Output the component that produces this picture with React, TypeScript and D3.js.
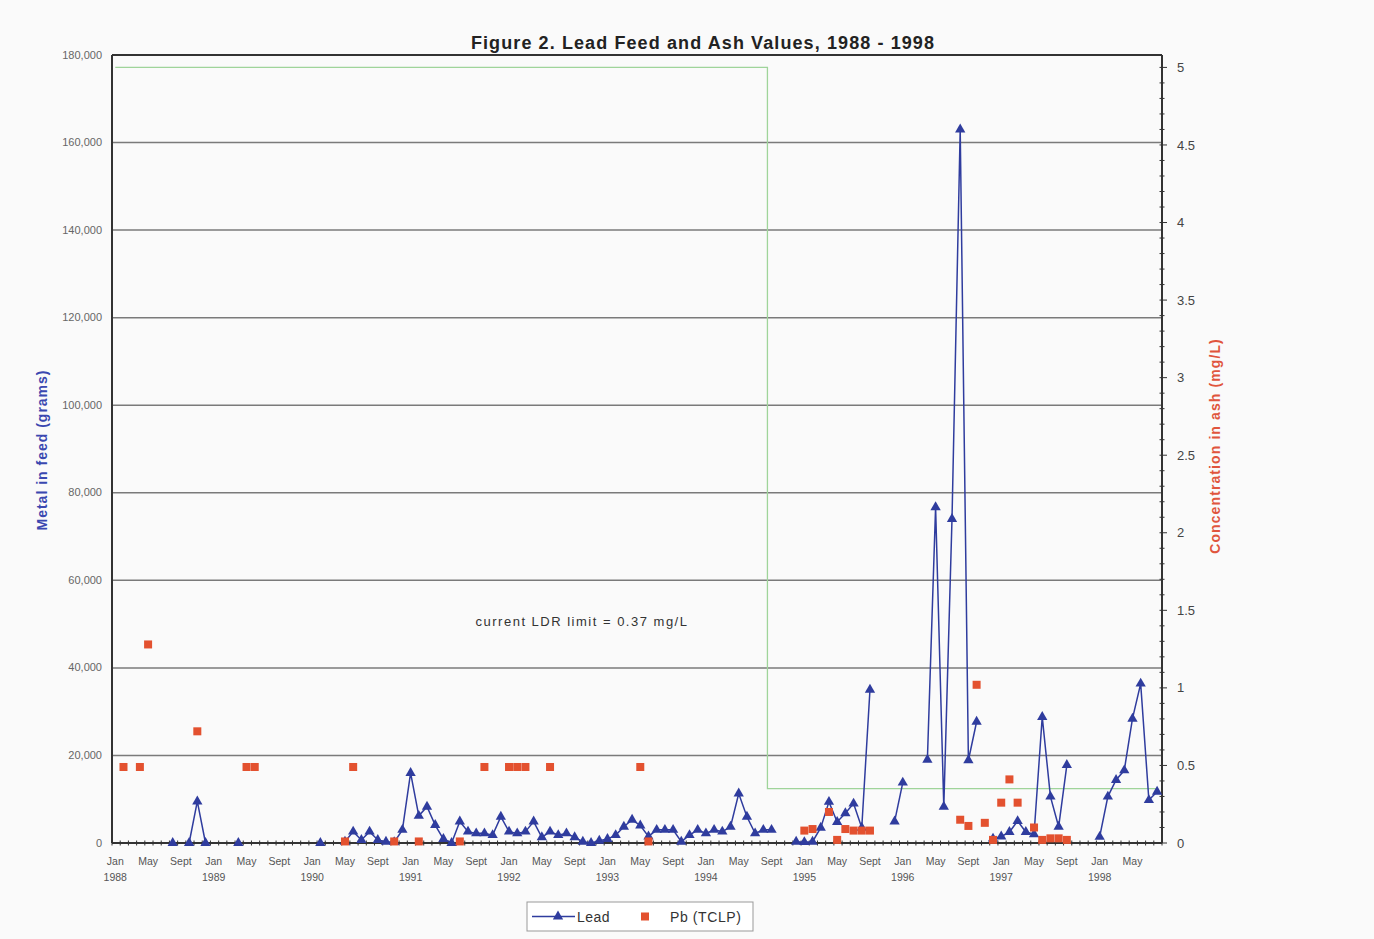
import { useEffect, useRef } from "react";
import * as d3 from "d3";

// months are counted from Jan 1988 (0 = Jan 1988)
const LEAD_MONTHS = [
  7, 9, 10, 11, 15, 25,
  28, 29, 30, 31, 32, 33, 34, 35, 36, 37, 38, 39, 40, 41, 42, 43, 44, 45, 46, 47, 48, 49, 50,
  51, 52, 53, 54, 55, 56, 57, 58, 59, 60, 61, 62, 63, 64, 65, 66, 67, 68, 69, 70, 71, 72, 73,
  74, 75, 76, 77, 78, 79, 80,
  83, 84, 85, 86, 87, 88, 89, 90, 91, 92,
  95, 96,
  99, 100, 101, 102, 103, 104, 105,
  107, 108, 109, 110, 111, 112, 113, 114, 115, 116,
  120, 121, 122, 123, 124, 125, 126, 127,
];
const LEAD_GRAMS = [
  0, 0, 9500, 0, 0, 0,
  300, 2600, 700, 2600, 700, 300, 200, 3000, 16000, 6200, 8300, 4100, 900, 0, 4900, 2600, 2200,
  2200, 1800, 6000, 2600, 2200, 2600, 4900, 1300, 2600, 1800, 2200, 1300, 300, 0, 500, 900, 1800,
  3700, 5300, 4000, 1500, 3000, 3000, 3000, 300, 1800, 3000, 2200, 3000, 2600, 3700, 11300, 6000,
  2200, 3000, 3000,
  300, 200, 300, 3500, 9400, 4800, 6800, 9000, 3500, 35000,
  4900, 13800,
  19000, 76700, 8300, 74000, 163000, 18900, 27700,
  1000, 1500, 2500, 5000, 2500, 2000, 28800, 10600, 3700, 17800,
  1400, 10600, 14400, 16600, 28400, 36400, 9800, 11700,
];

const TCLP_MONTHS = [
  1, 3, 4, 10, 16, 17, 28, 29, 34, 37, 42, 45, 48, 49, 50, 53, 64, 65,
  84, 85, 87, 88, 89, 90, 91, 92,
  103, 104, 105, 106, 107, 108, 109, 110, 112, 113, 114, 115, 116,
];
const TCLP_MGL = [
  0.49, 0.49, 1.28, 0.72, 0.49, 0.49, 0.01, 0.49, 0.01, 0.01, 0.01, 0.49, 0.49, 0.49, 0.49, 0.49, 0.49, 0.01,
  0.08, 0.09, 0.2, 0.02, 0.09, 0.08, 0.08, 0.08,
  0.15, 0.11, 1.02, 0.13, 0.02, 0.26, 0.41, 0.26, 0.1, 0.02, 0.03, 0.03, 0.02,
];

const LIMIT_MONTHS = [0, 79, 80, 127];
const LIMIT_MGL = [5, 5, 0.35, 0.35];

const MONTH_LABELS = ["Jan", "May", "Sept"];
const LEFT_TICKS = [0, 20000, 40000, 60000, 80000, 100000, 120000, 140000, 160000, 180000];
const RIGHT_TICKS = [0, 0.5, 1, 1.5, 2, 2.5, 3, 3.5, 4, 4.5, 5];

const BLUE = "#2f3c9e";
const RED = "#e3512f";
const GREEN = "#9fd49a";
const FONT = "'Liberation Sans', Arial, sans-serif";
const MID = 0.4; // samples sit a little into each month

export default function App() {
  const ref = useRef<SVGSVGElement>(null);

  useEffect(() => {
    if (!ref.current) return;
    const width = 1374;
    const height = 939;
    const margin = { top: 55, right: 212, bottom: 96, left: 112 };

    const svg = d3.select(ref.current);
    svg.selectAll("*").remove();

    svg.append("rect").attr("width", width).attr("height", height).attr("fill", "#fafafa");

    const x = d3.scaleLinear().domain([0, 128]).range([margin.left, width - margin.right]);
    const y = d3.scaleLinear().domain([0, 180000]).range([height - margin.bottom, margin.top]);
    const y2 = d3.scaleLinear().domain([0, 5.08]).range([height - margin.bottom, margin.top]);

    const x0 = margin.left;
    const x1 = width - margin.right;
    const yb = height - margin.bottom;

    // gridlines
    svg
      .append("g")
      .attr("stroke", "#7a7a7a")
      .attr("stroke-width", 1.5)
      .selectAll("line")
      .data(LEFT_TICKS.slice(1))
      .join("line")
      .attr("x1", x0)
      .attr("x2", x1)
      .attr("y1", (d) => y(d))
      .attr("y2", (d) => y(d));

    // left tick labels
    svg
      .append("g")
      .selectAll("text")
      .data(LEFT_TICKS)
      .join("text")
      .attr("x", x0 - 10)
      .attr("y", (d) => y(d))
      .attr("dy", "0.32em")
      .attr("text-anchor", "end")
      .attr("fill", "#666")
      .attr("font-family", FONT)
      .attr("font-size", 11)
      .text((d) => d3.format(",")(d));

    // green limit line
    const limit = LIMIT_MONTHS.map((m, i) => [m, LIMIT_MGL[i]] as [number, number]);
    svg
      .append("path")
      .datum(limit)
      .attr("fill", "none")
      .attr("stroke", GREEN)
      .attr("stroke-width", 1.3)
      .attr(
        "d",
        d3
          .line<[number, number]>()
          .curve(d3.curveStep)
          .x((d) => x(d[0] + MID))
          .y((d) => y2(d[1]))
      );

    svg
      .append("text")
      .attr("x", 582)
      .attr("y", 626)
      .attr("text-anchor", "middle")
      .attr("fill", "#333")
      .attr("font-family", FONT)
      .attr("font-size", 13)
      .attr("letter-spacing", 1.5)
      .text("current LDR limit = 0.37 mg/L");

    // axes lines
    const axes = svg.append("g").attr("stroke", "#333").attr("stroke-width", 2).attr("fill", "none");
    axes.append("line").attr("x1", x0).attr("x2", x0).attr("y1", margin.top).attr("y2", yb);
    axes.append("line").attr("x1", x1).attr("x2", x1).attr("y1", margin.top).attr("y2", yb);
    axes.append("line").attr("x1", x0).attr("x2", x1).attr("y1", margin.top).attr("y2", margin.top);
    axes.append("line").attr("x1", x0).attr("x2", x1).attr("y1", yb).attr("y2", yb);

    // x minor ticks every month
    svg
      .append("g")
      .attr("stroke", "#333")
      .attr("stroke-width", 1)
      .selectAll("line")
      .data(d3.range(0, 129))
      .join("line")
      .attr("x1", (d) => x(d))
      .attr("x2", (d) => x(d))
      .attr("y1", yb - 2.5)
      .attr("y2", yb + 2.5);

    // right axis ticks
    svg
      .append("g")
      .attr("stroke", "#333")
      .attr("stroke-width", 1)
      .selectAll("line")
      .data(d3.range(0, 51).map((d) => d / 10))
      .join("line")
      .attr("x1", () => x1 - 2.5)
      .attr("x2", (d) => x1 + (Math.round(d * 10) % 5 === 0 ? 5 : 2.5))
      .attr("y1", (d) => y2(d))
      .attr("y2", (d) => y2(d));

    svg
      .append("g")
      .selectAll("text")
      .data(RIGHT_TICKS)
      .join("text")
      .attr("x", x1 + 15)
      .attr("y", (d) => y2(d))
      .attr("dy", "0.35em")
      .attr("fill", "#444")
      .attr("font-family", FONT)
      .attr("font-size", 13)
      .text((d) => `${d}`);

    // x labels
    const labelMonths = d3.range(0, 128, 4);
    const xl = svg.append("g").attr("fill", "#555").attr("font-family", FONT).attr("font-size", 10.5);
    xl.selectAll("text.m")
      .data(labelMonths)
      .join("text")
      .attr("class", "m")
      .attr("x", (d) => x(d + MID))
      .attr("y", yb + 22)
      .attr("text-anchor", "middle")
      .text((d) => MONTH_LABELS[(d % 12) / 4]);
    xl.selectAll("text.yr")
      .data(labelMonths.filter((d) => d % 12 === 0))
      .join("text")
      .attr("class", "yr")
      .attr("x", (d) => x(d + MID))
      .attr("y", yb + 38)
      .attr("text-anchor", "middle")
      .text((d) => `${1988 + d / 12}`);

    // lead line, broken where months are missing
    const lead = LEAD_MONTHS.map((m, i) => [m, LEAD_GRAMS[i]] as [number, number]);
    const segments: [number, number][][] = [];
    lead.forEach((p, i) => {
      if (i === 0 || p[0] - lead[i - 1][0] > 1) segments.push([]);
      segments[segments.length - 1].push(p);
    });
    const line = d3
      .line<[number, number]>()
      .x((d) => x(d[0] + MID))
      .y((d) => y(d[1]));
    svg
      .append("g")
      .selectAll("path")
      .data(segments)
      .join("path")
      .attr("fill", "none")
      .attr("stroke", BLUE)
      .attr("stroke-width", 1.5)
      .attr("d", (d) => line(d));

    const tri = d3.symbol().type(d3.symbolTriangle).size(46);
    svg
      .append("g")
      .selectAll("path")
      .data(lead)
      .join("path")
      .attr("d", tri)
      .attr("transform", (d) => `translate(${x(d[0] + MID)},${y(d[1])})`)
      .attr("fill", BLUE);

    // TCLP squares
    svg
      .append("g")
      .selectAll("rect")
      .data(TCLP_MONTHS.map((m, i) => [m, TCLP_MGL[i]]))
      .join("rect")
      .attr("x", (d) => x(d[0] + MID) - 4)
      .attr("y", (d) => y2(d[1]) - 4)
      .attr("width", 8)
      .attr("height", 8)
      .attr("fill", RED);

    // titles
    svg
      .append("text")
      .attr("x", 703)
      .attr("y", 49)
      .attr("text-anchor", "middle")
      .attr("font-family", FONT)
      .attr("font-weight", "bold")
      .attr("font-size", 18)
      .attr("letter-spacing", 1.1)
      .attr("fill", "#222")
      .text("Figure 2. Lead Feed and Ash Values, 1988 - 1998");

    svg
      .append("text")
      .attr("transform", "translate(47,450) rotate(-90)")
      .attr("text-anchor", "middle")
      .attr("font-family", FONT)
      .attr("font-weight", "bold")
      .attr("font-size", 14)
      .attr("letter-spacing", 1)
      .attr("fill", "#3a48b0")
      .text("Metal in feed (grams)");

    svg
      .append("text")
      .attr("transform", "translate(1220,446) rotate(-90)")
      .attr("text-anchor", "middle")
      .attr("font-family", FONT)
      .attr("font-weight", "bold")
      .attr("font-size", 14)
      .attr("letter-spacing", 1.1)
      .attr("fill", "#e0553d")
      .text("Concentration in ash (mg/L)");

    // legend
    const lg = svg.append("g").attr("transform", "translate(527,902)");
    lg.append("rect").attr("width", 226).attr("height", 29).attr("fill", "#fff").attr("stroke", "#999");
    lg.append("line").attr("x1", 5).attr("x2", 48).attr("y1", 14.5).attr("y2", 14.5).attr("stroke", BLUE).attr("stroke-width", 1.5);
    lg.append("path").attr("d", tri).attr("transform", "translate(31,14.5)").attr("fill", BLUE);
    lg.append("text").attr("x", 50).attr("y", 19.5).attr("font-family", FONT).attr("font-size", 14).attr("letter-spacing", 0.5).attr("fill", "#333").text("Lead");
    lg.append("rect").attr("x", 114).attr("y", 10.5).attr("width", 8).attr("height", 8).attr("fill", RED);
    lg.append("text").attr("x", 143).attr("y", 19.5).attr("font-family", FONT).attr("font-size", 14).attr("letter-spacing", 0.6).attr("fill", "#333").text("Pb (TCLP)");
  }, []);

  return (
    <div style={{ position: "absolute", left: 0, top: 0 }}>
      <svg ref={ref} width={1374} height={939} />
    </div>
  );
}
